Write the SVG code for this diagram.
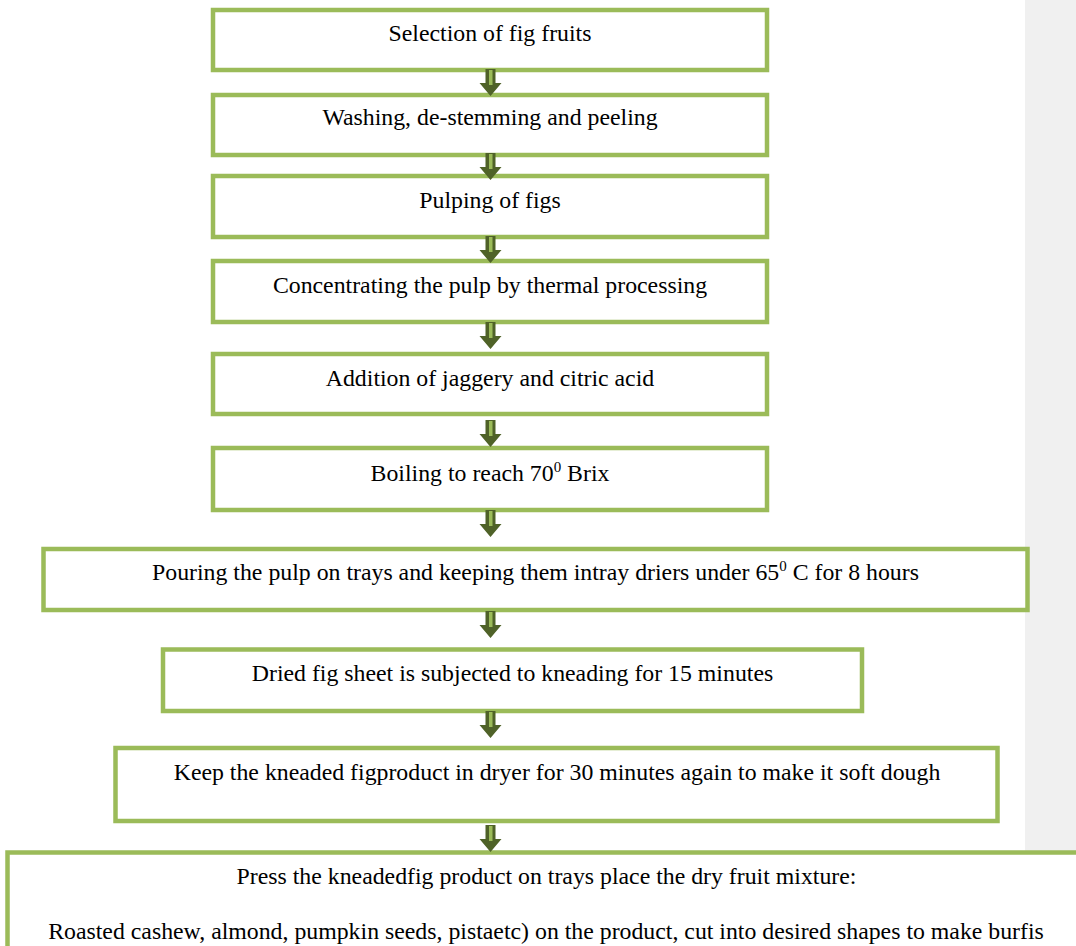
<svg xmlns="http://www.w3.org/2000/svg" xmlns:xlink="http://www.w3.org/1999/xlink" width="1076" height="946" viewBox="0 0 1076 946">
<style>
.box{fill:#ffffff;stroke:#9bbb59;stroke-width:4.5}
.t{font-family:"Liberation Serif","Times New Roman",serif;font-size:23.8px;fill:#000000;text-anchor:middle}
.sup{font-size:15px}
</style>
<defs>
<g id="arrow">
<path d="M485.5,0 H495.5 V14 H501.5 L490.5,27 L479.5,14 H485.5 Z" fill="#4f6228"/>
<rect x="489" y="1" width="3.5" height="15" fill="#9bbb59"/>
</g>
</defs>
<rect width="1076" height="946" fill="#ffffff"/>
<rect x="1025" y="0" width="51" height="946" fill="#f0f0f0"/>
<g id="n1"><rect class="box" x="213" y="10" width="554" height="60"/><text class="t" x="490" y="41">Selection of fig fruits</text></g>
<g id="n2"><rect class="box" x="213" y="95" width="554" height="60"/><text class="t" x="490" y="125">Washing, de-stemming and peeling</text></g>
<g id="n3"><rect class="box" x="213" y="176" width="554" height="61"/><text class="t" x="490" y="208">Pulping of figs</text></g>
<g id="n4"><rect class="box" x="213" y="261" width="554" height="61"/><text class="t" x="490" y="293">Concentrating the pulp by thermal processing</text></g>
<g id="n5"><rect class="box" x="213" y="354" width="554" height="60"/><text class="t" x="490" y="386">Addition of jaggery and citric acid</text></g>
<g id="n6"><rect class="box" x="213" y="448" width="554" height="62"/><text class="t" x="490" y="481">Boiling to reach 70<tspan class="sup" dy="-9">0</tspan><tspan dy="9"> Brix</tspan></text></g>
<g id="n7"><rect class="box" x="43.5" y="549" width="984" height="61"/><text class="t" x="535.5" y="580">Pouring the pulp on trays and keeping them intray driers under 65<tspan class="sup" dy="-9">0</tspan><tspan dy="9"> C for 8 hours</tspan></text></g>
<g id="n8"><rect class="box" x="163" y="649.5" width="699" height="61.5"/><text class="t" x="512.5" y="681">Dried fig sheet is subjected to kneading for 15 minutes</text></g>
<g id="n9"><rect class="box" x="115.5" y="748" width="882" height="73"/><text class="t" x="557" y="780">Keep the kneaded figproduct in dryer for 30 minutes again to make it soft dough</text></g>
<g id="n10"><rect class="box" x="7.5" y="852.5" width="1080" height="120"/><text class="t" x="546.5" y="884">Press the kneadedfig product on trays place the dry fruit mixture:</text><text class="t" x="546" y="939">Roasted cashew, almond, pumpkin seeds, pistaetc) on the product, cut into desired shapes to make burfis</text></g>
<g id="connectors">
<use xlink:href="#arrow" href="#arrow" y="69"/>
<use xlink:href="#arrow" href="#arrow" y="153"/>
<use xlink:href="#arrow" href="#arrow" y="236"/>
<use xlink:href="#arrow" href="#arrow" y="322"/>
<use xlink:href="#arrow" href="#arrow" y="420"/>
<use xlink:href="#arrow" href="#arrow" y="510"/>
<use xlink:href="#arrow" href="#arrow" y="611"/>
<use xlink:href="#arrow" href="#arrow" y="711"/>
<use xlink:href="#arrow" href="#arrow" y="825"/>
</g>
</svg>
